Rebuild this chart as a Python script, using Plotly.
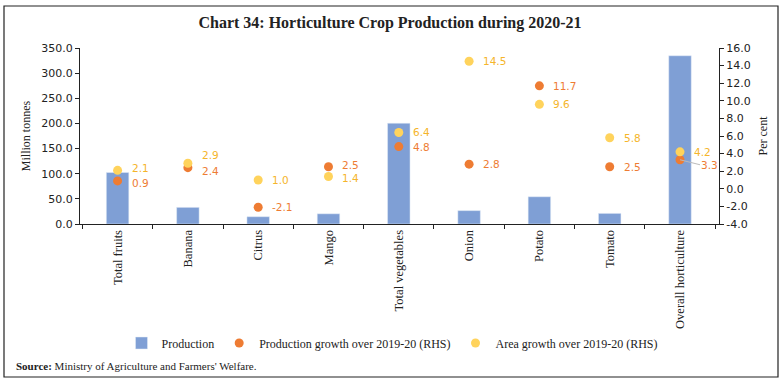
import plotly.graph_objects as go

categories = ["Total fruits", "Banana", "Citrus", "Mango", "Total vegetables",
              "Onion", "Potato", "Tomato", "Overall horticulture"]
production = [102.5, 33.1, 14.5, 20.3, 200.4, 26.6, 54.2, 21.1, 334.6]
prod_growth = [0.9, 2.4, -2.1, 2.5, 4.8, 2.8, 11.7, 2.5, 3.3]
area_growth = [2.1, 2.9, 1.0, 1.4, 6.4, 14.5, 9.6, 5.8, 4.2]
left_ticks = [0, 50, 100, 150, 200, 250, 300, 350]
right_ticks = [-4, -2, 0, 2, 4, 6, 8, 10, 12, 14, 16]

BAR = "#7F9FD5"
ORANGE = "#EE7C33"
YELLOW = "#FFD35C"
YELLOW_TXT = "#F5B52A"
SERIF = "Liberation Serif"
SANS = "DejaVu Sans"

L, R, T, B = 80, 64, 48, 157
W, H = 783, 381
pw, ph = W - L - R, H - T - B


def px(x):  # page pixel -> paper coord
    return (x - L) / pw


def py(y):
    return (T + ph - y) / ph


fig = go.Figure()
fig.add_trace(go.Bar(x=categories, y=production, name="Production",
                     marker_color=BAR, width=0.32, yaxis="y"))
fig.add_trace(go.Scatter(x=categories, y=prod_growth, yaxis="y2", mode="markers",
                         name="Production growth over 2019-20 (RHS)",
                         marker=dict(color=ORANGE, size=9)))
fig.add_trace(go.Scatter(x=categories, y=area_growth, yaxis="y2", mode="markers",
                         name="Area growth over 2019-20 (RHS)",
                         marker=dict(color=YELLOW, size=9)))

# small vertical nudges of data labels (pixels), as in the reference
prod_shift = {0: -2, 1: -3, 3: 2, 8: -5}
area_shift = {0: 2, 1: 8, 3: -2}

LABEL_SIZE = 10.5
for i, (c, v) in enumerate(zip(categories, prod_growth)):
    if i == 8:
        fig.add_annotation(x=c, y=v, xref="x", yref="y2", text=f"{v:.1f}",
                           showarrow=True, arrowhead=0, arrowcolor="#BBBBBB",
                           arrowwidth=1, ax=20, ay=5, xanchor="left", yanchor="middle",
                           standoff=0, borderpad=0,
                           font=dict(color=ORANGE, family=SANS, size=LABEL_SIZE))
    else:
        fig.add_annotation(x=c, y=v, xref="x", yref="y2", text=f"{v:.1f}",
                           showarrow=False, xanchor="left", yanchor="middle",
                           xshift=12, yshift=prod_shift.get(i, 0),
                           font=dict(color=ORANGE, family=SANS, size=LABEL_SIZE))
for i, (c, v) in enumerate(zip(categories, area_growth)):
    fig.add_annotation(x=c, y=v, xref="x", yref="y2", text=f"{v:.1f}",
                       showarrow=False, xanchor="left", yanchor="middle",
                       xshift=12, yshift=area_shift.get(i, 0),
                       font=dict(color=YELLOW_TXT, family=SANS, size=LABEL_SIZE))

fig.update_layout(
    width=W, height=H,
    margin=dict(l=L, r=R, t=T, b=B),
    paper_bgcolor="white", plot_bgcolor="white",
    title=dict(text="<b>Chart 34: Horticulture Crop Production during 2020-21</b>",
               x=390 / W, xref="container", xanchor="center",
               y=1 - 22 / H, yanchor="middle",
               font=dict(family=SERIF, size=16, color="#222")),
    xaxis=dict(type="category", tickangle=-90, tickson="boundaries",
               ticks="outside", ticklen=4, tickcolor="#222",
               showline=True, linecolor="#222", linewidth=1,
               tickfont=dict(family=SERIF, size=12.5, color="#222"),
               showgrid=False),
    yaxis=dict(range=[0, 350], tickvals=left_ticks,
               ticktext=[f"{v:.1f}" for v in left_ticks],
               ticks="outside", ticklen=4, tickcolor="#222",
               showline=True, linecolor="#222", linewidth=1, showgrid=False, zeroline=False,
               tickfont=dict(family=SANS, size=11, color="#222"),
               title=dict(text="Million tonnes", standoff=8,
                          font=dict(family=SERIF, size=12, color="#222"))),
    yaxis2=dict(range=[-4, 16], tickvals=right_ticks, overlaying="y", side="right",
                ticktext=[f"{v:.1f}" for v in right_ticks],
                ticks="outside", ticklen=4, tickcolor="#222",
                showline=True, linecolor="#222", linewidth=1, showgrid=False, zeroline=False,
                tickfont=dict(family=SANS, size=11, color="#222"),
                title=dict(text="Per cent", standoff=8,
                           font=dict(family=SERIF, size=12, color="#222"))),
    legend=dict(orientation="h", x=px(392), xanchor="center", y=py(343), yanchor="middle",
                font=dict(family=SERIF, size=12, color="#222"), itemwidth=30),
    showlegend=True,
    bargap=0.68,
)

fig.add_annotation(text="<b>Source:</b> Ministry of Agriculture and Farmers' Welfare.",
                   xref="paper", yref="paper", x=px(14), y=py(366),
                   xanchor="left", yanchor="middle", showarrow=False,
                   font=dict(family=SERIF, size=11, color="#222"))

fig.add_shape(type="rect", xref="paper", yref="paper",
              x0=px(4), x1=px(778), y0=py(377), y1=py(6),
              line=dict(color="#222", width=1.2), fillcolor="rgba(0,0,0,0)", layer="above")

fig.write_html("out.html", config={"displayModeBar": False},
               post_script="document.body.style.margin='0';document.body.style.overflow='hidden';")
